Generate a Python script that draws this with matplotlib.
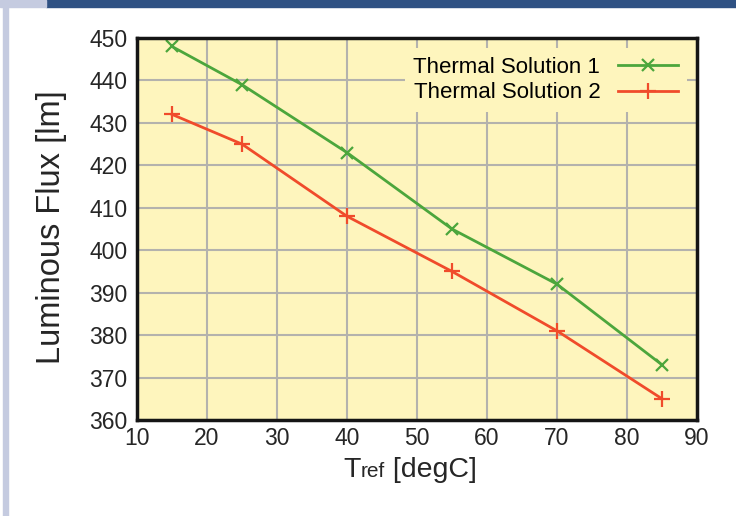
import matplotlib
matplotlib.use("Agg")
import matplotlib.pyplot as plt
from matplotlib.patches import Rectangle
from matplotlib.offsetbox import TextArea, HPacker, AnchoredOffsetbox

plt.rcParams['font.family'] = ['Liberation Sans', 'DejaVu Sans']

# Data
temps = [15, 25, 40, 55, 70, 85]
flux_solution1 = [448, 439, 423, 405, 392, 373]
flux_solution2 = [432, 425, 408, 395, 381, 365]
series_labels = ["Thermal Solution 1", "Thermal Solution 2"]
x_ticks = [10, 20, 30, 40, 50, 60, 70, 80, 90]
y_ticks = [360, 370, 380, 390, 400, 410, 420, 430, 440, 450]

W, H = 736, 516
fig = plt.figure(figsize=(W / 100, H / 100), dpi=100)
fig.patch.set_facecolor('white')

# decorative slide frame
fig.patches.append(Rectangle((46 / W, 1 - 7 / H), 1 - 46 / W, 7 / H,
                             transform=fig.transFigure, color='#2f5183', zorder=0))
fig.patches.append(Rectangle((0, 1 - 7 / H), 46 / W, 7 / H,
                             transform=fig.transFigure, color='#c5cbe0', zorder=0))
fig.patches.append(Rectangle((3 / W, 0), 5 / W, 1,
                             transform=fig.transFigure, color='#c5cbe0', zorder=0))

ax = fig.add_axes([137 / W, (H - 420) / H, (697 - 137) / W, (420 - 38) / H])
ax.set_facecolor('#fef5bd')

green = '#4ca63c'
red = '#f04b2b'
txt = '#262626'
ax.plot(temps, flux_solution1, color=green, lw=2.0, marker='x', ms=9, mew=1.6,
        label=series_labels[0], zorder=3)
ax.plot(temps, flux_solution2, color=red, lw=2.0, marker='+', ms=12, mew=1.6,
        label=series_labels[1], zorder=3)

ax.set_xlim(10, 90)
ax.set_ylim(360, 450)
ax.set_xticks(x_ticks)
ax.set_yticks(y_ticks)
ax.grid(True, color='#b4b2ad', lw=1.5, zorder=1)
ax.set_axisbelow(True)
ax.tick_params(axis='both', length=0, labelsize=16.5, colors=txt)
ax.tick_params(axis='y', pad=7)
ax.tick_params(axis='x', pad=5)
for s in ax.spines.values():
    s.set_linewidth(2.5)
    s.set_color('#151515')
    s.set_zorder(5)

fig.text(52 / W, 1 - 227.5 / H, "Luminous Flux [lm]", rotation=90,
         fontsize=23.5, color=txt, ha='center', va='center')

# x label: "T" + smaller "ref" + " [degC]"
t1 = TextArea("T", textprops=dict(fontsize=20.5, color=txt))
t2 = TextArea("ref", textprops=dict(fontsize=15, color=txt))
t3 = TextArea(" [degC]", textprops=dict(fontsize=20.5, color=txt))
pack = HPacker(children=[t1, t2, t3], align='baseline', pad=0, sep=0)
ab = AnchoredOffsetbox(loc='center', child=pack, frameon=False,
                       bbox_to_anchor=(410 / W, 1 - 470 / H),
                       bbox_transform=fig.transFigure, borderpad=0, pad=0)
fig.add_artist(ab)

leg = ax.legend(loc='upper right', bbox_to_anchor=(1.0, 1.0), markerfirst=False,
                fontsize=16, frameon=True, fancybox=False, framealpha=1,
                facecolor='#fef5bd', edgecolor='none', handlelength=2.7,
                borderaxespad=0.45, borderpad=0.4, labelspacing=0.2,
                handletextpad=0.8)
leg.set_zorder(4)

fig.savefig("out.png", dpi=100)
